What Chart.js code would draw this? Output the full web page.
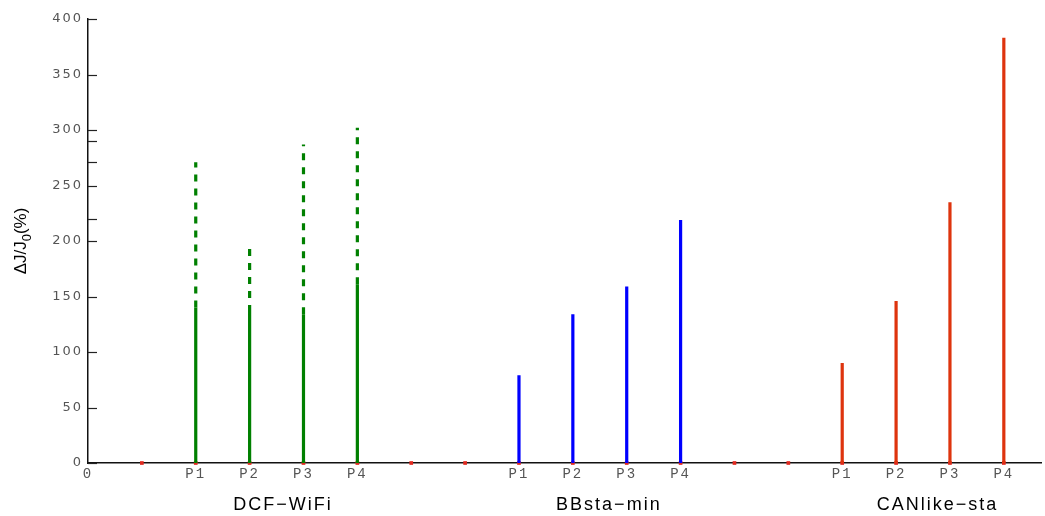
<!DOCTYPE html>
<html>
<head>
<meta charset="utf-8">
<script src="https://cdn.jsdelivr.net/npm/chart.js@4/dist/chart.umd.min.js"></script>
<style>
  html, body { margin: 0; padding: 0; background: #fff; }
  #wrap { width: 1045px; height: 516px; }
</style>
</head>
<body>
<div id="wrap"><canvas id="chart" width="1045" height="516"></canvas></div>
<script>
// x positions of the stems for each scheme
const dcfPos = [2, 3, 4, 5]
const bbPos = [8, 9, 10, 11]
const canPos = [14, 15, 16, 17]

// values
const dcfSolid = [140, 136, 134, 161]
const dcfDashed = [271, 198, 287, 302]
const bbVals = [79, 134, 159, 219]
const canVals = [90, 146, 235, 383]

// small red markers on the baseline
const basePos = [1, 2, 3, 4, 5, 6, 7, 8, 9, 10, 11, 12, 13, 14, 15, 16, 17]

// tick labels along x (index = position)
const tickLabels = ['0', '', 'P1', 'P2', 'P3', 'P4', '', '', 'P1', 'P2', 'P3', 'P4', '', '', 'P1', 'P2', 'P3', 'P4']
const groupNames = ['DCF\u2212WiFi', 'BBsta\u2212min', 'CANlike\u2212sta']
const yTicks = [0, 50, 100, 150, 200, 220, 250, 271, 290, 300, 350, 400]

/**
 * Turn positions + low/high values into line segments split by gaps
 */
function stems(pos, lo, hi) {
    const out = []
    pos.forEach((p, i) => {
        out.push({ x: p, y: lo[i] })
        out.push({ x: p, y: hi[i] })
        out.push({ x: p, y: null })
    })
    return out
}

const zeros = dcfPos.map(() => 0)

// draws inner y ticks, the y title and the group names
const decor = {
    id: 'decor',
    beforeDraw(chart) {
        chart.ctx.letterSpacing = '2px'
    },
    afterDraw(chart) {
        const ctx = chart.ctx
        const x = chart.scales.x
        const y = chart.scales.y
        ctx.save()
        ctx.letterSpacing = '0px'
        // inner tick marks on the y axis
        ctx.strokeStyle = '#222'
        ctx.lineWidth = 1.2
        y.ticks.forEach(t => {
            const py = Math.round(y.getPixelForValue(t.value)) + 0.5
            ctx.beginPath()
            ctx.moveTo(x.left, py)
            ctx.lineTo(x.left + 9, py)
            ctx.stroke()
        })
        // group names
        ctx.fillStyle = '#000'
        ctx.letterSpacing = '2px'
        ctx.font = '18px "Liberation Sans", Arial, sans-serif'
        ctx.textAlign = 'center'
        ctx.textBaseline = 'middle'
        const centers = [3.6, 9.65, 15.75]
        groupNames.forEach((name, i) => {
            ctx.fillText(name, x.getPixelForValue(centers[i]) + 1, 505)
        })
        ctx.letterSpacing = '0px'
        // y title with subscript
        const big = '17px "Liberation Sans", Arial, sans-serif'
        const small = '13px "Liberation Sans", Arial, sans-serif'
        const parts = [['\u0394J/J', big, 0], ['0', small, 6], ['(%)', big, 0]]
        let total = 0
        parts.forEach(([t, f]) => { ctx.font = f; total += ctx.measureText(t).width })
        ctx.translate(21, (y.top + y.bottom) / 2)
        ctx.rotate(-Math.PI / 2)
        ctx.textAlign = 'left'
        let cx = -total / 2
        parts.forEach(([t, f, dy]) => {
            ctx.font = f
            ctx.fillText(t, cx, dy)
            cx += ctx.measureText(t).width
        })
        ctx.restore()
    }
}

new Chart(document.getElementById('chart'), {
    type: 'line',
    data: {
        datasets: [
            {
                data: stems(dcfPos, zeros, dcfSolid),
                borderColor: 'rgb(0,128,0)', borderWidth: 3.2
            },
            {
                data: stems(dcfPos, dcfSolid, dcfDashed),
                borderColor: 'rgb(0,128,0)', borderWidth: 3.2, borderDash: [7, 7]
            },
            {
                data: stems(bbPos, zeros, bbVals),
                borderColor: 'rgb(0,0,255)', borderWidth: 3.2
            },
            {
                data: stems(canPos, zeros, canVals),
                borderColor: 'rgb(222,52,14)', borderWidth: 3.2
            },
            {
                type: 'scatter',
                data: basePos.map(p => ({ x: p, y: 0 })),
                showLine: false, clip: false,
                pointStyle: 'rect', pointRadius: 2.6,
                backgroundColor: 'rgb(225,40,30)', borderWidth: 0
            }
        ]
    },
    options: {
        responsive: false,
        animation: false,
        devicePixelRatio: 1,
        spanGaps: false,
        elements: { point: { radius: 0 }, line: { borderCapStyle: 'butt', tension: 0 } },
        layout: { padding: { top: 19, right: 0, left: 0, bottom: 0 } },
        plugins: { legend: { display: false }, tooltip: { enabled: false } },
        scales: {
            x: {
                type: 'linear', min: 0, max: 17.69,
                afterBuildTicks: s => { s.ticks = tickLabels.map((_, i) => ({ value: i })) },
                afterFit: s => { s.height = 53 },
                grid: { display: false, drawTicks: false },
                border: { display: true, color: '#111', width: 1.5 },
                ticks: {
                    autoSkip: false, maxRotation: 0, padding: 3,
                    color: '#555',
                    font: { family: '"Liberation Mono", "Courier New", monospace', size: 14 },
                    callback: v => tickLabels[v] ?? ''
                }
            },
            y: {
                min: 0, max: 400,
                afterBuildTicks: s => { s.ticks = yTicks.map(v => ({ value: v })) },
                afterFit: s => { s.width = 88 },
                grid: { display: false, drawTicks: false },
                border: { display: true, color: '#111', width: 1.5 },
                ticks: {
                    padding: 5, color: '#555',
                    font: { family: '"DejaVu Sans", sans-serif', size: 13 },
                    callback: v => (v % 50 === 0 ? String(v) : '')
                }
            }
        }
    },
    plugins: [decor]
})
</script>
</body>
</html>
